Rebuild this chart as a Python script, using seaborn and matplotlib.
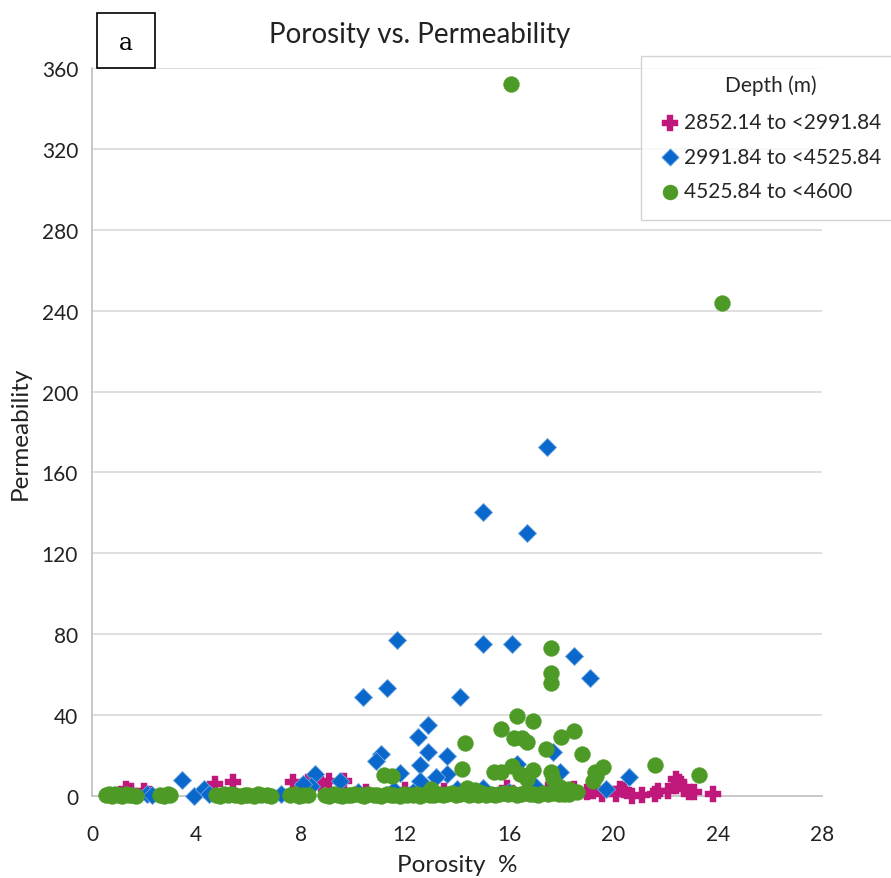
import matplotlib
matplotlib.use("Agg")
import matplotlib.pyplot as plt
from matplotlib.patches import Rectangle
import seaborn as sns

# Depth class labels
depth_labels = ["2852.14 to <2991.84", "2991.84 to <4525.84", "4525.84 to <4600"]

# Shallow interval (2852.14 to <2991.84 m)
por_shallow = [1.3, 1.5, 2.0, 2.2, 4.7, 5.4, 7.7, 8.3, 8.8, 9.1, 9.65, 10.5, 12.0, 13.5,
               15.9, 16.8, 17.5, 18.5, 19.0, 19.2, 19.55, 20.1, 20.25, 20.4, 20.7, 21.1,
               21.6, 21.7, 22.1, 22.4, 22.4, 22.5, 22.7, 22.9, 23.1, 23.8]
perm_shallow = [3.5, 2.5, 2.5, 1.0, 6.0, 6.8, 6.8, 6.8, 6.0, 7.5, 7.2, 2.0, 3.0, 2.5,
                4.0, 3.5, 3.0, 3.5, 1.8, 2.5, 1.0, 1.0, 3.5, 3.0, 0.0, 0.5,
                1.0, 2.6, 2.6, 8.4, 5.0, 6.8, 3.5, 2.0, 1.8, 1.0]

# Middle interval (2991.84 to <4525.84 m)
por_middle = [17.45, 15.0, 16.7, 11.7, 15.0, 16.1, 18.5, 19.1, 10.4, 11.3, 14.1,
              12.9, 12.5, 11.1, 10.9, 12.9, 12.6, 13.6, 13.6, 13.2, 12.6, 11.8,
              8.55, 9.5, 8.4, 8.1, 3.44, 3.9, 4.3, 4.5, 2.1, 2.3, 7.25,
              10.2, 11.6, 12.3, 14.0, 15.0, 16.0, 16.3, 17.0, 17.7, 17.95, 19.7, 20.6]
perm_middle = [172.6, 140.3, 130.0, 77.0, 75.3, 75.3, 69.4, 58.2, 49.0, 53.4, 49.1,
               35.0, 29.3, 21.0, 17.5, 21.6, 15.5, 20.0, 10.9, 9.2, 7.6, 11.4,
               10.9, 7.6, 5.0, 6.0, 8.0, 0.0, 3.5, 1.0, 1.0, 0.5, 1.0,
               2.0, 3.0, 2.0, 3.5, 4.0, 2.0, 16.0, 5.0, 22.0, 12.0, 3.5, 9.2]

# Deep interval (4525.84 to <4600 m)
por_deep = [16.07, 24.17, 17.6, 17.6, 17.6, 16.3, 16.9, 15.7, 14.3, 16.2, 16.5, 16.7,
            18.5, 18.0, 17.4, 18.8, 14.2, 19.6, 19.3, 16.1, 16.9, 17.6, 15.4, 15.7,
            16.4, 16.7, 17.7, 21.6, 23.3, 11.2, 11.5, 19.2, 19.35, 18.3, 17.95, 18.07,
            18.6, 14.4, 14.7, 13.0,
            0.52, 0.65, 0.78, 0.9, 1.02, 1.15, 1.3, 1.42, 1.55, 1.68,
            2.6, 2.75, 2.9, 3.0,
            4.75, 4.9, 5.05, 5.2, 5.35, 5.5, 5.7, 5.85, 6.0, 6.2, 6.35, 6.5, 6.7, 6.85,
            7.6, 7.8, 7.95, 8.1, 8.3,
            8.95, 9.1, 9.3, 9.45, 9.6, 9.8, 9.95, 10.1, 10.3, 10.45, 10.6, 10.8, 10.95,
            11.1, 11.3, 11.45, 11.6, 11.8, 11.95, 12.1, 12.3, 12.45, 12.6, 12.8, 12.95,
            13.1, 13.3, 13.45, 13.6, 13.8, 13.95, 14.1, 14.3, 14.45, 14.6, 14.8, 14.95,
            15.1, 15.3, 15.45, 15.6, 15.8, 15.95, 16.1, 16.3, 16.45, 16.6, 16.8, 16.95,
            17.1, 17.3, 17.5, 17.7, 17.9, 18.1, 18.3]
perm_deep = [352.0, 244.0, 73.0, 61.0, 56.0, 39.5, 37.0, 33.0, 26.0, 28.5, 28.5, 26.5,
             32.0, 29.0, 23.0, 21.0, 13.5, 14.5, 12.0, 15.0, 13.0, 11.7, 11.7, 11.7,
             11.0, 8.4, 8.4, 15.3, 10.4, 10.4, 10.0, 7.6, 10.0, 3.5, 4.5, 2.6,
             1.8, 4.0, 3.0, 3.5,
             0.3, 0.8, 0.1, 1.0, 0.5, 0.2, 0.9, 0.4, 0.7, 0.1,
             0.6, 0.2, 0.9, 0.4,
             0.5, 0.1, 0.8, 0.3, 1.0, 0.4, 0.2, 0.7, 0.5, 0.1, 0.9, 0.3, 0.6, 0.2,
             0.4, 0.8, 0.1, 0.6, 0.3,
             0.5, 0.2, 0.9, 0.4, 0.1, 0.7, 0.3, 1.0, 0.5, 0.2, 0.8, 0.4, 0.6,
             0.1, 0.9, 0.3, 0.7, 0.2, 1.1, 0.5, 0.4, 0.8, 0.2, 1.2, 0.6,
             0.3, 1.0, 0.4, 0.8, 1.3, 0.5, 0.9, 1.5, 0.6, 1.1, 0.4, 1.4,
             0.7, 1.2, 0.5, 1.0, 1.6, 0.8, 1.3, 0.6, 1.1, 1.5, 0.9, 1.2,
             0.7, 1.4, 1.0, 1.3, 0.8, 1.1, 0.9]

x_ticks = [0, 4, 8, 12, 16, 20, 24, 28]
y_ticks = [0, 40, 80, 120, 160, 200, 240, 280, 320, 360]
y_minor = [20, 60, 100, 140, 180, 220, 260, 300, 340]

PINK = "#C0177B"
BLUE = "#0A68CC"
GREEN = "#4E9A27"
AXIS_GREY = "#BFBFBF"
GRID_GREY = "#D9D9D9"
TEXT = "#222222"

sns.set_style("white")
plt.rcParams["font.family"] = ["Lato", "DejaVu Sans"]

fig = plt.figure(figsize=(8.91, 8.79), dpi=100)
ax = fig.add_axes([92 / 891, 1 - 797 / 879, 730 / 891, 728 / 879])

sns.scatterplot(x=por_shallow, y=perm_shallow, marker="P", s=135, color=PINK,
                edgecolor=PINK, linewidth=0.3, label=depth_labels[0], ax=ax,
                clip_on=False, zorder=3)
sns.scatterplot(x=por_middle, y=perm_middle, marker="D", s=85, color=BLUE,
                edgecolor="#6FA8E0", linewidth=0.6, label=depth_labels[1], ax=ax,
                clip_on=False, zorder=4)
sns.scatterplot(x=por_deep, y=perm_deep, marker="o", s=130, color=GREEN,
                edgecolor=GREEN, linewidth=0.3, label=depth_labels[2], ax=ax,
                clip_on=False, zorder=5)

ax.set_xlim(0, 28)
ax.set_ylim(0, 360)
ax.set_xticks(x_ticks)
ax.set_yticks(y_ticks)
ax.set_yticks(y_minor, minor=True)
ax.tick_params(axis="x", which="major", direction="out", length=8, width=1,
               color=AXIS_GREY, pad=12, labelsize=15, labelcolor=TEXT)
ax.tick_params(axis="y", which="major", length=0, pad=10, labelsize=15,
               labelcolor=TEXT)
ax.tick_params(axis="y", which="minor", direction="in", length=5, width=1,
               color=AXIS_GREY)
ax.set_xticklabels([str(v) for v in x_ticks])
ax.set_yticklabels([str(v) for v in y_ticks])

for v in y_ticks[1:]:
    ax.axhline(v, color=GRID_GREY, linewidth=1.2, zorder=0)

for side in ["top", "right"]:
    ax.spines[side].set_visible(False)
for side in ["left", "bottom"]:
    ax.spines[side].set_color(AXIS_GREY)
    ax.spines[side].set_linewidth(1.2)

ax.set_xlabel("Porosity  %", fontsize=17.5, color=TEXT)
ax.set_ylabel("Permeability", fontsize=17.5, color=TEXT)
ax.xaxis.set_label_coords(0.5, -0.079)
ax.yaxis.set_label_coords(-0.084, 0.5)

fig.text(420 / 891, 1 - 35 / 879, "Porosity vs. Permeability", ha="center",
         va="center", fontsize=20, color=TEXT)

# Panel tag box
fig.patches.append(Rectangle((97 / 891, 1 - 69 / 879), 58 / 891, 55 / 879,
                             transform=fig.transFigure, fill=False,
                             edgecolor="black", linewidth=1.2))
fig.text(126 / 891, 1 - 44 / 879, "a", ha="center", va="center", fontsize=17,
         family="DejaVu Serif", color="black")

handles, labels = ax.get_legend_handles_labels()
ax.legend_.remove()
leg = fig.legend(handles, labels, title="Depth (m)", loc="upper left",
                 bbox_to_anchor=(641 / 891, 1 - 57 / 879), borderaxespad=0,
                 frameon=True, fancybox=False, edgecolor="#C8C8C8", fontsize=15,
                 title_fontsize=15, handletextpad=0.15, labelspacing=0.7,
                 borderpad=0.9, handlelength=1.0, markerscale=0.95)
leg.get_frame().set_linewidth(1.0)
leg._legend_box.sep = 12

fig.savefig("out.png", dpi=100)
